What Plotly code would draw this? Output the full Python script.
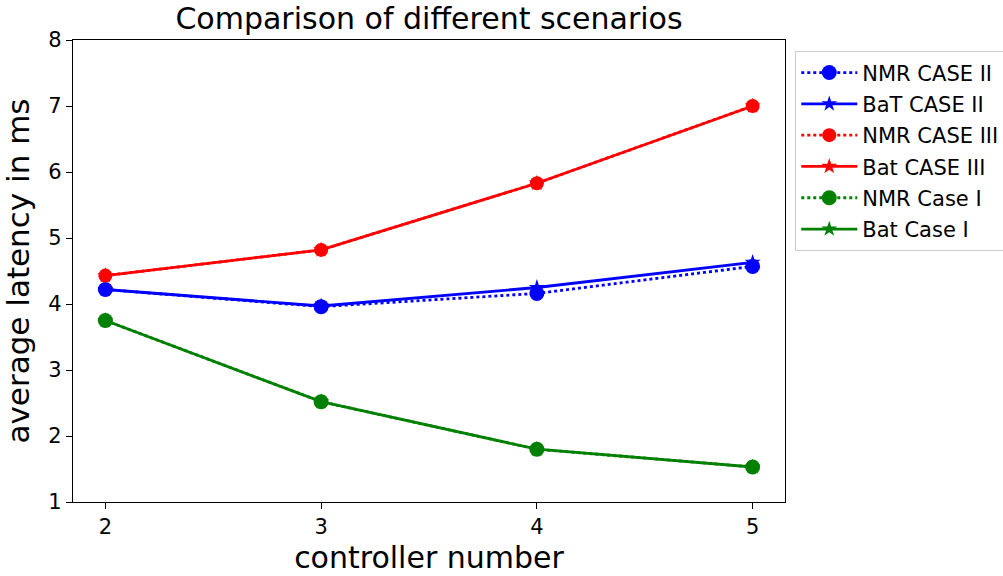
import plotly.graph_objects as go

# controller counts on the x axis
controllers = [2, 3, 4, 5]

# average latency (ms) per scenario
nmr_case_ii = [4.22, 3.96, 4.16, 4.57]
bat_case_ii = [4.22, 3.97, 4.25, 4.63]
nmr_case_iii = [4.43, 4.82, 5.83, 7.00]
bat_case_iii = [4.43, 4.82, 5.83, 7.00]
nmr_case_i = [3.75, 2.52, 1.80, 1.53]
bat_case_i = [3.75, 2.52, 1.80, 1.53]

series = [
    ("NMR CASE II", nmr_case_ii, "blue", "dot", "circle", 15),
    ("BaT CASE II", bat_case_ii, "blue", "solid", "star", 12),
    ("NMR CASE III", nmr_case_iii, "red", "dot", "circle", 14),
    ("Bat CASE III", bat_case_iii, "red", "solid", "star", 12),
    ("NMR Case I", nmr_case_i, "green", "dot", "circle", 15),
    ("Bat Case I", bat_case_i, "green", "solid", "star", 12),
]

FONT = "DejaVu Sans"

fig = go.Figure()
for i, (name, ys, color, dash, symbol, size) in enumerate(series):
    fig.add_trace(go.Scatter(
        x=controllers, y=ys, name=name, mode="lines+markers",
        line=dict(color=color, width=2.8, dash=dash),
        marker=dict(color=color, symbol=symbol, size=size, line=dict(width=0)),
        legendgroup=f"g{i}",
    ))

axis_common = dict(
    showline=True, mirror=True, linecolor="black", linewidth=1.3,
    ticks="outside", ticklen=6, tickwidth=1.3, tickcolor="black",
    showgrid=False, zeroline=False,
    tickfont=dict(family=FONT, size=21, color="black"),
)

fig.update_layout(
    width=1003, height=576,
    margin=dict(l=73, r=218, t=40, b=74, autoexpand=False),
    paper_bgcolor="white", plot_bgcolor="white",
    font=dict(family=FONT, color="black"),
    title=dict(
        text="Comparison of different scenarios",
        font=dict(family=FONT, size=30, color="black"),
        x=0.5, xref="paper", xanchor="center",
        y=1 - 18 / 576, yref="container", yanchor="middle",
    ),
    xaxis=dict(
        range=[1.85, 5.15], tickvals=controllers,
        title=dict(text="controller number", font=dict(family=FONT, size=30), standoff=8),
        **axis_common,
    ),
    yaxis=dict(
        range=[1, 8], tickvals=[1, 2, 3, 4, 5, 6, 7, 8],
        title=dict(text="average latency in ms", font=dict(family=FONT, size=31), standoff=10),
        **axis_common,
    ),
    legend=dict(
        x=1.014, y=0.976, xanchor="left", yanchor="top",
        bordercolor="#cccccc", borderwidth=1.3, bgcolor="white",
        font=dict(family=FONT, size=21, color="black"),
        tracegroupgap=1, itemwidth=56,
    ),
)

fig.write_html("out.html")
